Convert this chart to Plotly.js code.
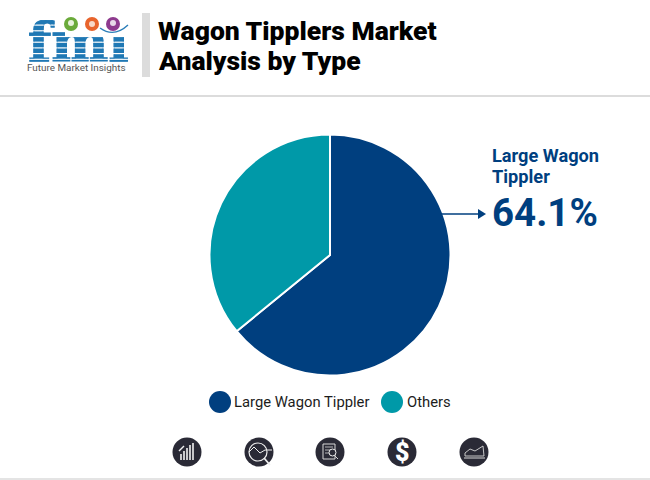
<!DOCTYPE html>
<html><head><meta charset="utf-8">
<script src="https://cdn.plot.ly/plotly-3.0.1.min.js"></script>
<style>html,body{margin:0;padding:0;background:#fff}#c{width:650px;height:480px}</style></head>
<body><div id="c"></div>
<script>
const categories = ["Large Wagon Tippler", "Others"];
const shares = [64.1, 35.9];
const sliceColors = ["#003f7f", "#0099a8"];
const titleLines = ["Wagon Tipplers Market", "Analysis by Type"];
const calloutLines = ["Large Wagon", "Tippler"];
const calloutValue = "64.1%";
const brand = "Future Market Insights";
const logoLetters = "fmi";

const W = 650, H = 480;
const X = x => x / W, Y = y => 1 - y / H;
const rect = (x0, y0, x1, y1, color) => ({type:"rect", xref:"paper", yref:"paper", x0:X(x0), x1:X(x1), y0:Y(y0), y1:Y(y1), fillcolor:color, line:{width:0}});
const circ = (cx, cy, r, color) => ({type:"circle", xref:"paper", yref:"paper", x0:X(cx-r), x1:X(cx+r), y0:Y(cy-r), y1:Y(cy+r), fillcolor:color, line:{width:0}});
const seg = (x0, y0, x1, y1, color, w) => ({type:"line", xref:"paper", yref:"paper", x0:X(x0), x1:X(x1), y0:Y(y0), y1:Y(y1), line:{color:color, width:w}});
const txt = (x, y, text, size, color, weight, extra) => Object.assign({xref:"paper", yref:"paper", x:X(x), y:Y(y), text:text, showarrow:false, xanchor:"left", yanchor:"middle",
  font:{family:"Roboto", size:size, color:color, weight:weight||400}}, extra||{});

const shapes = [
  rect(0, 95, 650, 97, "#dcdcdc"),
  rect(0, 478, 650, 480, "#e4e4e4"),
  rect(142, 13, 150, 77, "#dcdcdc"),
  seg(442, 214, 482, 214, "#003f7f", 1.6),
  {type:"path", xref:"paper", yref:"paper", path:`M${X(478)},${Y(209)} L${X(486)},${Y(214)} L${X(478)},${Y(219)} Z`, fillcolor:"#003f7f", line:{width:0}},
  circ(220, 402, 11, sliceColors[0]),
  circ(392, 402, 11, sliceColors[1]),
];

shapes.push(circ(71, 24, 7, "#6aaa3a"), circ(92, 24, 7, "#e8642c"), circ(113, 24, 7, "#8e3a8e"));
shapes.push(circ(71, 23, 3, "#e8f2dc"), circ(92, 24, 3, "#f8d8c8"), circ(113, 23, 3, "#e8d8e8"));
shapes.push({type:"path", xref:"paper", yref:"paper", path:`M${X(100)},${Y(28)} Q${X(114)},${Y(38)} ${X(128)},${Y(25)}`, line:{color:"#2a7db8", width:1.4}});

const icons = [187, 259, 330, 402, 474];
const dark = "#2a2a36";
icons.forEach(x => shapes.push(circ(x, 452, 14.5, dark)));
[[-6,2],[-3,-1],[0,-4],[3,-7],[6,-9]].forEach(b => shapes.push(rect(187+b[0]-0.8, 452+b[1], 187+b[0]+0.8, 460, "#f0f0f0")));
shapes.push(seg(179, 451, 184, 446, "#f0f0f0", 1.5));
shapes.push({type:"circle", xref:"paper", yref:"paper", x0:X(249), x1:X(267), y0:Y(443), y1:Y(461), line:{color:"#f0f0f0", width:1.2}});
shapes.push({type:"path", xref:"paper", yref:"paper", path:`M${X(249)},${Y(452)} L${X(254)},${Y(447)} L${X(260)},${Y(453)} L${X(265)},${Y(450)} L${X(272)},${Y(450)}`, line:{color:"#f0f0f0", width:1}});
shapes.push(seg(264, 458, 270, 465, "#f0f0f0", 1.8));
shapes.push({type:"rect", xref:"paper", yref:"paper", x0:X(323), x1:X(335), y0:Y(444), y1:Y(459), line:{color:"#d8d8d8", width:1}});
[447,450,453].forEach(y => shapes.push(seg(325, y, 333, y, "#d8d8d8", 0.8)));
shapes.push({type:"circle", xref:"paper", yref:"paper", x0:X(329), x1:X(336), y0:Y(449), y1:Y(456), fillcolor:dark, line:{color:"#f0f0f0", width:1}});
shapes.push(seg(335, 456, 338, 459, "#d8d8d8", 1));
shapes.push({type:"path", xref:"paper", yref:"paper", path:`M${X(465)},${Y(456)} L${X(465)},${Y(453)} L${X(470)},${Y(449)} L${X(475)},${Y(451)} L${X(483)},${Y(446)} L${X(484)},${Y(456)} Z`, line:{color:"#d8d8d8", width:0.9}});
shapes.push(seg(464, 458, 485, 458, "#d8d8d8", 1));

const annotations = [
  txt(155.5, 30, titleLines[0], 26.5, "#000000", 900),
  txt(155.5, 60, titleLines[1], 26.5, "#000000", 900),
  txt(490, 155, calloutLines[0], 18.2, "#003f7f", 700),
  txt(490, 176, calloutLines[1], 18.2, "#003f7f", 700),
  txt(490, 212, calloutValue, 38.5, "#003f7f", 700),
  txt(232, 402, categories[0], 14.8, "#1c1c1c", 400),
  txt(405, 402, categories[1], 14.8, "#1c1c1c", 400),
  txt(25, 68, brand, 9.9, "#555555", 400),
  txt(26, 42, logoLetters, 54, "#1f78b4", 700),
  txt(402, 452, "$", 25, "#ffffff", 900, {xanchor:"center"}),
];
annotations[8].font.family = "DejaVu Serif";

Plotly.newPlot("c", [{
  type:"pie", labels:categories, values:shares, sort:false, direction:"clockwise", rotation:0,
  marker:{colors:sliceColors, line:{color:"#ffffff", width:2}},
  textinfo:"none", hoverinfo:"label+percent",
  domain:{x:[X(209.5), X(450.5)], y:[Y(375.5), Y(134.5)]}
}], {
  width:W, height:H, margin:{l:0,r:0,t:0,b:0}, showlegend:false,
  paper_bgcolor:"#ffffff", shapes:shapes, annotations:annotations
}, {displayModeBar:false, staticPlot:true}).then(gd => {
  // The logo's letters are banded horizontally and the i has no dot: fill the text with a band pattern.
  const el = Array.from(gd.querySelectorAll(".annotation-text")).find(t => t.textContent === logoLetters);
  if (!el) return;
  const NS = "http://www.w3.org/2000/svg";
  const svg = el.ownerSVGElement, box = svg.getBoundingClientRect(), m = el.getScreenCTM();
  const defs = document.createElementNS(NS, "defs");
  const pat = document.createElementNS(NS, "pattern");
  pat.setAttribute("id", "logoBands");
  pat.setAttribute("patternUnits", "userSpaceOnUse");
  pat.setAttribute("width", W);
  pat.setAttribute("height", H);
  pat.setAttribute("patternTransform", `translate(${box.left - m.e},${box.top - m.f})`);
  for (let y = 20; y < 64; y += 5.7) {
    const r = document.createElementNS(NS, "rect");
    r.setAttribute("x", 20);
    r.setAttribute("y", y);
    r.setAttribute("width", y < 32 ? 45 : 115);
    r.setAttribute("height", 4.5);
    r.setAttribute("fill", "#1f78b4");
    pat.appendChild(r);
  }
  defs.appendChild(pat);
  svg.insertBefore(defs, svg.firstChild);
  el.style.fill = "url(#logoBands)";
  el.style.stroke = "url(#logoBands)";
  el.style.strokeWidth = "1.2px";
});
</script></body></html>
